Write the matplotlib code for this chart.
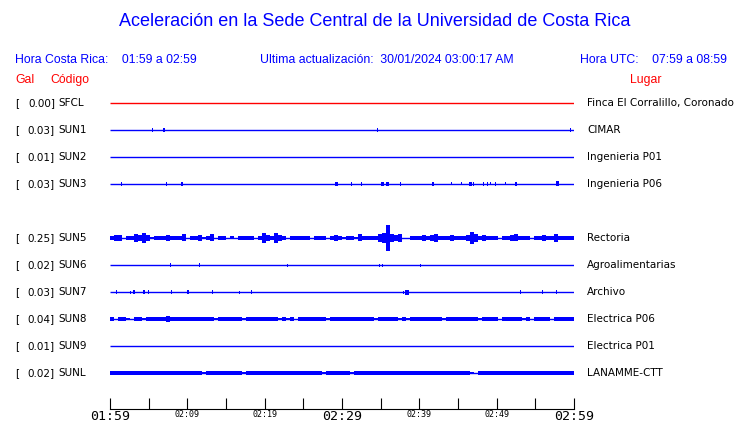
import matplotlib
matplotlib.use("Agg")
import matplotlib.pyplot as plt
import numpy as np

# stations, top to bottom (None = empty slot)
codes = ["SFCL", "SUN1", "SUN2", "SUN3", None, "SUN5", "SUN6", "SUN7", "SUN8", "SUN9", "SUNL"]
gal = [0.00, 0.03, 0.01, 0.03, None, 0.25, 0.02, 0.03, 0.04, 0.01, 0.02]
places = ["Finca El Corralillo, Coronado", "CIMAR", "Ingenieria P01", "Ingenieria P06", None,
          "Rectoria", "Agroalimentarias", "Archivo", "Electrica P06", "Electrica P01", "LANAMME-CTT"]
line_colors = ["red", "blue", "blue", "blue", None, "blue", "blue", "blue", "blue", "blue", "blue"]

# sparse traces: (minute, half amplitude, width in minutes)
events = {
    "SUN1": [(5.5, 2, 0.13), (7.0, 2, 0.3), (34.6, 2, 0.13), (59.5, 2, 0.13)],
    "SUN3": [(1.5, 2, 0.13), (7.3, 2, 0.13), (9.3, 2, 0.3), (29.3, 2, 0.3), (31.2, 2, 0.13),
             (32.5, 2, 0.13), (35.2, 2, 0.4), (35.9, 2, 0.4), (37.6, 2, 0.13), (41.8, 2, 0.3),
             (44.2, 1.5, 0.13), (45.5, 1.5, 0.13), (46.6, 2, 0.3), (47.0, 2, 0.13), (48.3, 2, 0.13),
             (48.8, 2, 0.13), (49.2, 1.5, 0.13), (49.8, 2, 0.13), (51.2, 1.5, 0.13), (52.5, 2, 0.3),
             (57.9, 2.5, 0.4)],
    "SUN6": [(7.8, 2, 0.13), (11.6, 2, 0.13), (22.9, 1.5, 0.13), (34.8, 1.5, 0.13),
             (35.3, 1.5, 0.13), (40.1, 1.5, 0.13)],
    "SUN7": [(0.9, 2, 0.13), (2.6, 1.5, 0.13), (3.1, 2, 0.3), (4.4, 2, 0.3), (5.0, 2, 0.13),
             (8.0, 2, 0.13), (10.1, 2, 0.3), (13.2, 2, 0.13), (16.7, 1.5, 0.13), (18.3, 2, 0.13),
             (37.9, 1.5, 0.13), (38.4, 2.5, 0.4), (53.1, 2, 0.13), (55.9, 2, 0.13), (57.8, 2, 0.13)],
}

# dense traces: envelope half amplitude per bin (116 bins over the hour)
sun5_env = [1.5, 2.2, 2, 0, 1.2, 1.3, 3, 2, 4, 2.5, 0.5, 1.3, 1.3, 1.3, 2.3, 1.3, 1.3, 1.3, 2.7, 0.3,
            1.3, 1.3, 2.3, 0.5, 1.3, 2.7, 0, 1, 1.3, 0, 0.7, 0.3, 0.8, 1, 1.2, 0.8, 0, 1.5, 4, 2,
            1.5, 4.5, 2, 1.3, 0.3, 1.2, 0.8, 0.8, 1, 1.3, 0.3, 1.3, 1.3, 1.3, 0.3, 1.3, 2.3, 1.3, 0.5, 1.3,
            0.8, 0.5, 2.7, 1.3, 1.3, 1.3, 1.3, 3, 4, 12, 3.3, 2, 3.3, 0.3, 0.3, 1.5, 1.3, 1.3, 2, 1,
            2.5, 3, 1.3, 1.3, 1.3, 2.3, 1, 1.3, 1.3, 2.5, 5.5, 3, 0.8, 2, 1.3, 1.5, 1, 0.3, 1.3, 1.3,
            2, 2.7, 1, 1, 0.8, 0.3, 1.3, 1.3, 2.3, 1, 1.5, 3, 1.5, 1.3, 1.5, 1.5]
sun8_env = [1, 0.3, 0.8, 1, 0.6, 0.3, 0.8, 0.8, 0.6, 0.8, 1, 1.2, 1.2, 1.2, 2, 1.3, 1.2, 1.2, 1, 1,
            1.2, 1, 1.5, 1.2, 1.5, 1.2, 0.5, 0.8, 1, 1, 1, 1, 0.8, 0.6, 1, 1, 1.2, 1.2, 1.2, 1.2,
            1.2, 1.2, 0.5, 0.8, 0.5, 1, 0.3, 0.8, 1, 0.8, 0.8, 0.8, 0.8, 0.8, 0.6, 0.8, 0.8, 1, 1, 0.8,
            0.8, 0.8, 1, 0.8, 0.8, 0.8, 0.6, 1, 1.2, 1.6, 1.2, 1, 0.5, 0.8, 0.6, 1, 1.2, 1.2, 1.2, 1.2,
            1.2, 1.2, 1, 0.6, 0.8, 1, 1, 0.8, 1, 1, 0.8, 1, 0.6, 0.8, 1, 1, 1, 0.3, 1.2, 1.2,
            1.2, 1.2, 1.2, 0.6, 0.8, 0.3, 1.2, 1.2, 1.2, 1, 0.3, 1, 1.2, 1.2, 1.2, 1.2]
sunl_env = [1, 1, 1.1, 1, 1, 1.1, 1, 1, 1.1, 1, 1, 1.1, 1, 1, 1.1, 1, 1, 1.1, 1, 1,
            1, 1.1, 0.8, 0.5, 1, 1.1, 1, 1, 1.1, 1, 1, 1, 0.8, 0.5, 1, 1.1, 1, 1, 1.1, 1,
            1, 1.1, 1, 1, 1.1, 1, 1, 1.1, 1, 1, 1.1, 1, 0.8, 0.5, 1, 1.1, 1, 1, 1, 0.8,
            0.5, 1, 1.1, 1, 1, 1.1, 1, 1, 1.1, 1, 1, 1.1, 1, 1, 1.1, 1, 1, 1.1, 1, 1,
            1.1, 1, 1, 1.1, 1, 1, 1.1, 1, 1, 0.8, 0.5, 0.3, 0.8, 1, 1.1, 1, 1, 1.1, 1, 1,
            1.1, 1, 1.1, 1, 1, 1.1, 1, 1, 1.1, 1, 1, 1.1, 1, 1, 1.1, 0.8]
envelopes = {"SUN5": sun5_env, "SUN8": sun8_env, "SUNL": sunl_env}

tick_minutes = list(range(0, 61, 5))
tick_labels = ["01:59", "", "02:09", "", "02:19", "", "02:29", "", "02:39", "", "02:49", "", "02:59"]
big_labels = ["01:59", "02:29", "02:59"]

W, H = 740, 423
fig = plt.figure(figsize=(W / 100, H / 100), dpi=100)
px = 27.0  # pixels per row
line_half = 0.8  # half thickness of the trace line, added to each burst

ax = fig.add_axes([110 / W, 1 - 386.5 / H, 464 / W, 297 / H])
ax.set_xlim(0, 60)
ax.set_ylim(10.5, -0.5)
ax.axis("off")

for i, code in enumerate(codes):
    if code is None:
        continue
    c = line_colors[i]
    ax.plot([0, 60], [i, i], color=c, lw=1.0, solid_capstyle="butt")
    if code in events:
        for m, a, w in events[code]:
            ax.bar(m, 2 * a / px, bottom=i - a / px, width=w, color=c, linewidth=0)
    if code in envelopes:
        env = np.array(envelopes[code], dtype=float)
        env = np.where(env > 0.4, env + line_half, 0.0) / px
        env = np.append(env, env[-1])
        edges = np.linspace(0, 60, len(env))
        ax.fill_between(edges, i - env, i + env, step="post", color=c, linewidth=0)

    y = 1 - (103 + i * px) / H
    lab = dict(fontsize=7.5, color="black", va="center", family="DejaVu Sans")
    fig.text(15 / W, y, "[", **lab)
    fig.text(55 / W, y, f"{gal[i]:.2f}]", ha="right", **lab)
    fig.text(58 / W, y, code, **lab)
    fig.text(587 / W, y, places[i], **lab)

# time axis
tax = fig.add_axes([110 / W, 1 - 409 / H, 464 / W, 0.0001])
tax.set_xlim(0, 60)
tax.set_yticks([])
for s in ["top", "left", "right"]:
    tax.spines[s].set_visible(False)
tax.spines["bottom"].set_linewidth(0.8)
tax.set_xticks(tick_minutes)
tax.set_xticklabels(tick_labels, family="DejaVu Sans Mono")
tax.tick_params(axis="x", direction="in", length=8, width=0.8, pad=0.5)
for lab in tax.get_xticklabels():
    lab.set_fontsize(9.5 if lab.get_text() in big_labels else 6)
tax.patch.set_visible(False)

# header texts
fig.text(375 / W, 1 - 22 / H, "Aceleración en la Sede Central de la Universidad de Costa Rica",
         ha="center", va="center", fontsize=13, color="blue", family="Liberation Sans")
hdr = dict(fontsize=8.8, color="blue", va="center", family="Liberation Sans")
fig.text(15 / W, 1 - 60 / H, "Hora Costa Rica:    01:59 a 02:59", **hdr)
fig.text(260 / W, 1 - 60 / H, "Ultima actualización:  30/01/2024 03:00:17 AM", **hdr)
fig.text(580 / W, 1 - 60 / H, "Hora UTC:    07:59 a 08:59", **hdr)
red = dict(fontsize=8.8, color="red", va="center", family="Liberation Sans")
fig.text(15 / W, 1 - 80 / H, "Gal", **red)
fig.text(50 / W, 1 - 80 / H, "Código", **red)
fig.text(646 / W, 1 - 80 / H, "Lugar", ha="center", **red)

fig.savefig("out.png", dpi=100)
